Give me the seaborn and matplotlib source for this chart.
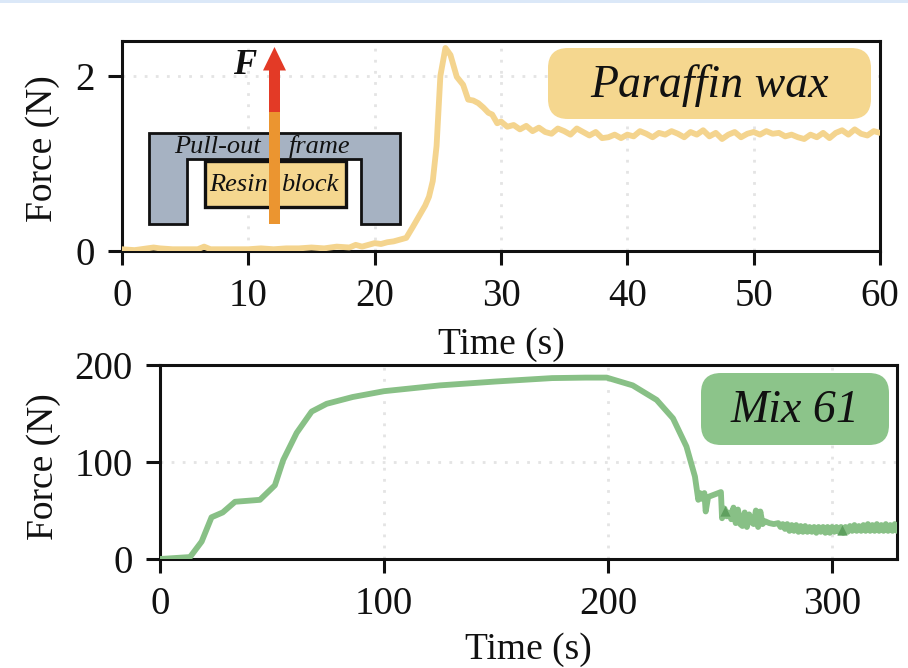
import matplotlib
matplotlib.use('Agg')
import pandas as pd
import matplotlib.pyplot as plt
from matplotlib.patches import FancyBboxPatch, Polygon, Rectangle
import seaborn as sns

# paraffin wax pull-out curve
wax_time = [0, 1, 2, 2.5, 3, 4, 5, 6, 6.5, 7, 8, 9, 10, 11, 12, 13, 14, 15, 16, 17, 18, 18.5, 19, 20, 20.5, 21, 21.5, 22, 22.5,
            23, 23.6, 24, 24.3, 24.6, 24.9, 25.2, 25.6, 26, 26.5, 27, 27.4, 27.8, 28.2, 28.6, 29, 29.3, 29.7,
            30, 30.5, 31, 31.5, 32, 32.5, 33, 33.5, 34, 34.5, 35, 35.5, 36, 36.5, 37, 37.5, 38, 38.5, 39, 39.5,
            40, 40.5, 41, 41.5, 42, 42.5, 43, 43.5, 44, 44.5, 45, 45.5, 46, 46.5, 47, 47.5, 48, 48.5, 49, 49.5,
            50, 50.5, 51, 51.5, 52, 52.5, 53, 53.5, 54, 54.5, 55, 55.5, 56, 56.5, 57, 57.5, 58, 58.5, 59, 59.5, 60]
wax_force = [0.02, 0.01, 0.03, 0.04, 0.03, 0.02, 0.02, 0.02, 0.05, 0.02, 0.02, 0.02, 0.02, 0.03, 0.02, 0.03, 0.03, 0.04, 0.03, 0.05, 0.04, 0.07, 0.05, 0.09, 0.08, 0.10, 0.11, 0.13, 0.15,
             0.27, 0.42, 0.52, 0.62, 0.80, 1.20, 2.00, 2.32, 2.24, 1.99, 1.90, 1.73, 1.72, 1.69, 1.64, 1.58, 1.56, 1.46,
             1.48, 1.42, 1.44, 1.39, 1.43, 1.37, 1.41, 1.36, 1.34, 1.40, 1.37, 1.33, 1.40, 1.36, 1.32, 1.36, 1.29, 1.30, 1.33, 1.29,
             1.33, 1.31, 1.37, 1.34, 1.30, 1.35, 1.33, 1.37, 1.34, 1.30, 1.36, 1.33, 1.38, 1.31, 1.35, 1.28, 1.33, 1.36, 1.30, 1.34,
             1.36, 1.33, 1.37, 1.34, 1.35, 1.31, 1.33, 1.30, 1.28, 1.33, 1.30, 1.35, 1.29, 1.35, 1.38, 1.33, 1.39, 1.34, 1.32, 1.37, 1.35]

# mix 61 curve
mix_time = [0, 13.4, 18.6, 23, 28, 33.5, 44.6, 51.3, 55, 61, 67.7, 74.4, 86, 100, 125, 150, 175, 190, 199.4, 211, 221.7, 229, 235, 238.8,
            240.3, 241, 242, 243, 243.6, 244.7, 250.4, 250.9, 252, 253, 254, 255, 256, 257, 258, 259, 260, 261, 262, 263, 264, 265, 266, 267, 268, 269, 270,
            272, 274, 276, 277, 278, 279, 280, 281, 282, 283, 284, 285, 286, 287, 288, 289, 290, 291, 292, 293, 294, 295, 296, 297, 298, 299, 300,
            301, 302, 303, 304, 305, 306, 307, 308, 309, 310, 311, 312, 313, 314, 315, 316, 317, 318, 319, 320, 321, 322, 323, 324, 325, 326, 327, 328, 329, 330]
mix_force = [0, 2, 18, 43, 48, 59, 61, 76, 102, 130, 152, 160, 167, 173, 179, 183, 186.5, 187, 187, 179, 164, 145, 116, 85,
             61, 68, 62, 68, 49, 64, 69, 42, 52, 44, 48, 41, 53, 37, 51, 36, 34, 48, 33, 46, 38, 36, 50, 33, 49, 36, 39,
             37, 36, 37, 33, 36, 31, 36, 29, 35, 29, 35, 28, 34, 28, 34, 28, 33, 28, 33, 27, 33, 28, 33, 27, 33, 27, 33,
             28, 33, 28, 33, 27, 33, 28, 34, 29, 35, 29, 34, 29, 35, 29, 36, 29, 35, 29, 36, 29, 35, 29, 36, 29, 35, 29, 36, 29, 35]

# small darker specks on the green curve
speck_time = [252, 304.3]
speck_force = [50, 30]

wax_ticks_x = [0, 10, 20, 30, 40, 50, 60]
wax_ticks_y = [0, 2]
mix_ticks_x = [0, 100, 200, 300]
mix_ticks_y = [0, 100, 200]

sns.set_theme(style='ticks')
plt.rcParams['font.family'] = ['Liberation Serif', 'DejaVu Serif']

W, H = 908, 668
YELLOW = '#F4D48E'
GREEN = '#88C086'


def px_axes(left, top, right, bottom):
    return [left / W, 1 - bottom / H, (right - left) / W, (bottom - top) / H]


def style_axes(ax, xt, yt):
    ax.set_xticks(xt)
    ax.set_yticks(yt)
    ax.grid(True, color='#e4e4e4', linestyle=(0, (1, 3)), linewidth=2)
    ax.set_axisbelow(True)
    for s in ax.spines.values():
        s.set_linewidth(2.2)
        s.set_color('#111111')
        s.set_visible(True)
    ax.tick_params(length=10, width=2.2, color='#111111', labelsize=28, labelcolor='#111111', pad=9.5)
    ax.set_xlabel('Time (s)', fontsize=27, color='#111111')
    ax.set_ylabel('Force (N)', fontsize=27, color='#111111')


fig = plt.figure(figsize=(W / 100, H / 100), dpi=100)
fig.patches.append(Rectangle((0, 1 - 3 / H), 1, 3 / H, transform=fig.transFigure, color='#dbe8f8', lw=0))

# top panel
ax1 = fig.add_axes(px_axes(122, 41, 880, 251))
sns.lineplot(x=wax_time, y=wax_force, color=YELLOW, linewidth=4.2, ax=ax1, zorder=3)
ax1.set_xlim(0, 60)
ax1.set_ylim(0, 2.4)
style_axes(ax1, wax_ticks_x, wax_ticks_y)
ax1.xaxis.set_label_coords(0.5, -0.445)
ax1.xaxis.label.set_va('center')
ax1.yaxis.set_label_coords(-0.104, 0.486)
ax1.yaxis.label.set_va('center')

# bottom panel
ax2 = fig.add_axes(px_axes(160, 365, 897, 559))
sns.lineplot(x=mix_time, y=mix_force, color=GREEN, linewidth=4.2, ax=ax2, zorder=3)
sns.scatterplot(x=speck_time, y=speck_force, color='#5fa05f', marker='^', s=55, linewidth=0, ax=ax2, zorder=4)
ax2.set_xlim(0, 329)
ax2.set_ylim(0, 200)
style_axes(ax2, mix_ticks_x, mix_ticks_y)
ax2.xaxis.set_label_coords(0.5, -0.47)
ax2.xaxis.label.set_va('center')
ax2.yaxis.set_label_coords(-0.158, 0.474)
ax2.yaxis.label.set_va('center')

# overlay drawn in figure pixels
over = fig.add_axes([0, 0, 1, 1], zorder=5)
over.set_xlim(0, W)
over.set_ylim(H, 0)
over.axis('off')
over.patch.set_alpha(0)


def badge(x0, y0, x1, y1, color, text, size):
    r = 20
    over.add_patch(FancyBboxPatch((x0 + r, y0 + r), x1 - x0 - 2 * r, y1 - y0 - 2 * r,
                                  boxstyle=f'round,pad={r},rounding_size={r}', fc=color, ec='none'))
    over.text((x0 + x1) / 2, (y0 + y1) / 2 + 2, text, fontsize=size, style='italic', ha='center', va='center', color='#111111')


badge(548, 48, 871, 119, '#F5D78F', 'Paraffin wax', 33)
badge(701, 373, 889, 445, '#8CC48A', 'Mix 61', 33)

# pull-out frame sketch
frame = [(149, 133), (400, 133), (400, 224), (361, 224), (361, 159), (187, 159), (187, 224), (149, 224)]
over.add_patch(Polygon(frame, closed=True, fc='#A6B2C2', ec='#111111', lw=2, joinstyle='miter'))
over.add_patch(Rectangle((205, 161), 141, 45.5, fc='#F5D78F', ec='#111111', lw=2.4))
over.text(217.5, 147, 'Pull-out', fontsize=19, style='italic', ha='center', va='center', color='#111111')
over.text(320, 147, 'frame', fontsize=19, style='italic', ha='center', va='center', color='#111111')
over.text(238.5, 185, 'Resin', fontsize=19, style='italic', ha='center', va='center', color='#111111')
over.text(310, 185, 'block', fontsize=19, style='italic', ha='center', va='center', color='#111111')
over.add_patch(Rectangle((269, 112), 11, 112, fc='#EB9530', ec='none'))
over.add_patch(Rectangle((269, 70), 11, 42, fc='#E33A26', ec='none'))
over.add_patch(Polygon([(263, 70.5), (286, 70.5), (274.5, 47)], closed=True, fc='#E33A26', ec='none'))
over.text(245, 65, 'F', fontsize=25, style='italic', weight='bold', ha='center', va='center', color='#111111')

fig.savefig('out.png', dpi=100)
